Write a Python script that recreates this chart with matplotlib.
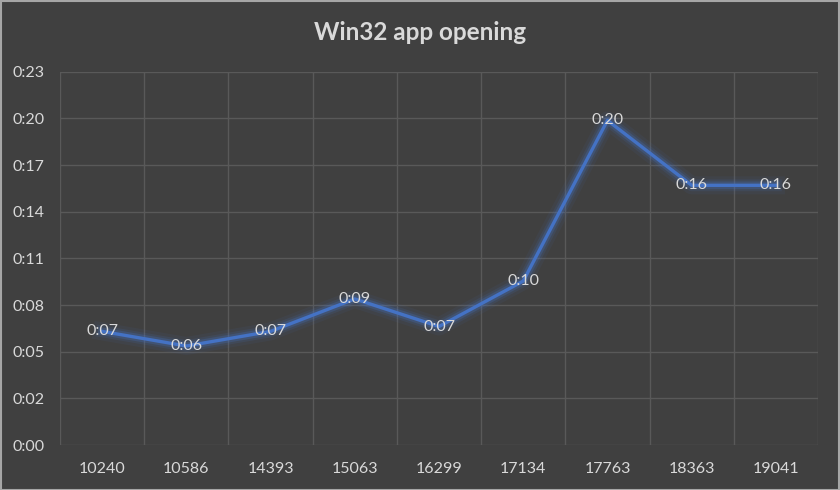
import matplotlib
matplotlib.use('Agg')
import matplotlib.pyplot as plt
import matplotlib.patheffects as pe
import numpy as np

plt.rcParams['font.family'] = ['Lato', 'DejaVu Sans']

# build numbers and app-opening time in seconds
builds = ['10240', '10586', '14393', '15063', '16299', '17134', '17763', '18363', '19041']
seconds = [7.0, 6.1, 7.0, 9.0, 7.3, 10.1, 20.0, 16.0, 16.0]
y_max = 23.0
y_step = 2.875

BG = '#404040'
GRID = '#595959'
TXT = '#d9d9d9'
BLUE = '#4472c4'


def fmt_time(v):
    s = int(v + 1e-9)
    return '%d:%02d' % (s // 60, s % 60)


fig = plt.figure(figsize=(8.4, 4.9), dpi=100, facecolor=BG)
ax = fig.add_axes([60 / 840, 1 - 445 / 490, 758 / 840, (445 - 71.7) / 490])
ax.set_facecolor(BG)

x = np.arange(len(builds))
glow = [pe.Stroke(linewidth=13, foreground=BLUE, alpha=0.07),
        pe.Stroke(linewidth=8.5, foreground=BLUE, alpha=0.13),
        pe.Stroke(linewidth=5.5, foreground=BLUE, alpha=0.25),
        pe.Normal()]
ax.plot(x, seconds, color=BLUE, linewidth=2.4, solid_joinstyle='round',
        path_effects=glow, zorder=3)

for xi, v in zip(x, seconds):
    ax.text(xi, v, fmt_time(v), ha='center', va='center', color=TXT,
            fontsize=11.5, zorder=4)

ax.set_xlim(-0.5, len(builds) - 0.5)
ax.set_ylim(0, y_max)
yt = np.arange(0, y_max + 0.01, y_step)
ax.set_yticks(yt)
ax.set_yticklabels([fmt_time(v) for v in yt])
ax.set_xticks(x)
ax.set_xticklabels(builds)
ax.set_xticks(np.arange(-0.5, len(builds), 1), minor=True)
ax.tick_params(axis='both', which='both', length=0, colors=TXT, labelsize=11.5)
ax.tick_params(axis='x', pad=12)
for lab in ax.get_yticklabels():
    lab.set_horizontalalignment('left')
ax.yaxis.set_tick_params(pad=34)

ax.grid(True, axis='y', which='major', color=GRID, linewidth=1)
ax.grid(True, axis='x', which='minor', color=GRID, linewidth=1)
ax.grid(False, axis='x', which='major')
ax.set_axisbelow(True)
for sp in ax.spines.values():
    sp.set_visible(False)

fig.text(0.5, 1 - 33 / 490, 'Win32 app opening', ha='center', va='center',
         color=TXT, fontsize=17.5, fontweight='bold')

fig.patches.append(plt.Rectangle((0.001, 0.001), 0.998, 0.997, transform=fig.transFigure,
                                 fill=False, edgecolor='#a6a6a6', linewidth=1.5))

fig.savefig('out.png', dpi=100, facecolor=BG)
